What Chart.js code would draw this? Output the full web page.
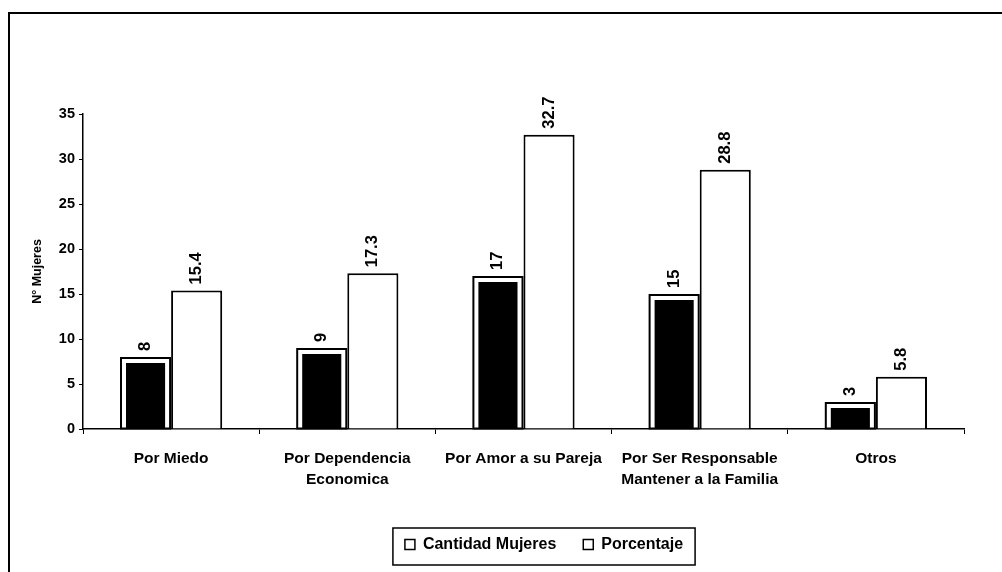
<!DOCTYPE html>
<html>
<head>
<meta charset="utf-8">
<script src="https://cdn.jsdelivr.net/npm/chart.js@4/dist/chart.umd.min.js"></script>
<style>
  html, body { margin: 0; padding: 0; background: #fff; }
  #wrap { position: relative; width: 1002px; height: 572px; overflow: hidden; }
  #frame { position: absolute; left: 8px; top: 12px; width: 1100px; height: 700px;
           border-left: 2px solid #000; border-top: 2px solid #000; pointer-events: none; }
  canvas { position: absolute; left: 0; top: 0; }
</style>
</head>
<body>
<div id="wrap">
  <canvas id="c" width="1002" height="572"></canvas>
  <div id="frame"></div>
</div>
<script>
const categories = [
  'Por Miedo',
  ['Por Dependencia', 'Economica'],
  'Por Amor a su Pareja',
  ['Por Ser Responsable', 'Mantener a la Familia'],
  'Otros'
];
const seriesNames = ['Cantidad Mujeres', 'Porcentaje'];
const cantidadMujeres = [8, 9, 17, 15, 3];
const porcentaje = [15.4, 17.3, 32.7, 28.8, 5.8];
const yTitle = 'N\u00b0 Mujeres';

Chart.defaults.font.family = "'Liberation Sans', Arial, sans-serif";
Chart.defaults.color = '#000';

const LEGEND_CX = 544;
const LEGEND_TEXT_CY = 546;

const decorPlugin = {
  id: 'decor',
  afterLayout(chart) {
    const lg = chart.legend;
    if (!lg) return;
    const w = lg.width;
    lg.left = LEGEND_CX - w / 2;
    lg.right = LEGEND_CX + w / 2;
    const pad = lg.options.labels.padding;
    const fs = lg.options.labels.font.size;
    const itemH = fs * 1.2;
    const h = lg.height;
    lg.top = LEGEND_TEXT_CY - pad - itemH / 2;
    lg.bottom = lg.top + h;
  },
  afterDatasetsDraw(chart) {
    const ctx = chart.ctx;
    // outer outline for the first series
    const m0 = chart.getDatasetMeta(0);
    ctx.save();
    ctx.strokeStyle = '#000';
    ctx.lineWidth = 2;
    m0.data.forEach(el => {
      const p = el.getProps(['x', 'y', 'base', 'width'], true);
      ctx.strokeRect(p.x - p.width / 2 + 1, p.y + 1, p.width - 2, p.base - p.y - 1);
    });
    ctx.restore();
    // value labels
    ctx.save();
    ctx.fillStyle = '#000';
    ctx.font = "bold 16.5px 'Liberation Sans', Arial, sans-serif";
    ctx.textAlign = 'left';
    ctx.textBaseline = 'middle';
    chart.data.datasets.forEach((ds, di) => {
      const meta = chart.getDatasetMeta(di);
      meta.data.forEach((el, i) => {
        const p = el.getProps(['x', 'y'], true);
        ctx.save();
        ctx.translate(p.x, p.y - 6);
        ctx.rotate(-Math.PI / 2);
        ctx.fillText(String(ds.data[i]), 0, 0);
        ctx.restore();
      });
    });
    ctx.restore();
  },
  afterDraw(chart) {
    const lg = chart.legend;
    if (!lg || !lg.lineWidths) return;
    const ctx = chart.ctx;
    const pad = lg.options.labels.padding;
    const fs = lg.options.labels.font.size;
    const itemsW = lg.lineWidths[0] - pad;
    const cx = (lg.left + lg.right) / 2;
    const cy = lg.top + pad + fs * 1.2 / 2;
    ctx.save();
    ctx.strokeStyle = '#000';
    ctx.lineWidth = 1.5;
    ctx.strokeRect(cx - itemsW / 2 - 12, cy - 18, itemsW + 24, 37);
    ctx.restore();
  }
};

new Chart(document.getElementById('c'), {
  type: 'bar',
  data: {
    labels: categories,
    datasets: [
      {
        label: seriesNames[0],
        data: cantidadMujeres,
        backgroundColor: '#000',
        borderColor: '#fff',
        borderWidth: 6,
        categoryPercentage: 0.58,
        barPercentage: 1.0
      },
      {
        label: seriesNames[1],
        data: porcentaje,
        backgroundColor: '#fff',
        borderColor: '#000',
        borderWidth: 2,
        categoryPercentage: 0.58,
        barPercentage: 1.0
      }
    ]
  },
  options: {
    responsive: false,
    animation: false,
    devicePixelRatio: 1,
    layout: { padding: { top: 114, right: 38, left: 0, bottom: 10 } },
    plugins: {
      tooltip: { enabled: false },
      legend: {
        display: true,
        position: 'bottom',
        labels: {
          boxWidth: 10,
          boxHeight: 10,
          padding: 27,
          color: '#000',
          font: { size: 16, weight: 'bold' },
          generateLabels(chart) {
            return chart.data.datasets.map((ds, i) => ({
              text: ds.label,
              fillStyle: '#fff',
              strokeStyle: '#000',
              lineWidth: 1.5,
              hidden: false,
              datasetIndex: i,
              fontColor: '#000'
            }));
          }
        }
      }
    },
    scales: {
      x: {
        afterFit(scale) { scale.height = 80; },
        grid: {
          display: true,
          drawOnChartArea: false,
          offset: true,
          tickLength: 5,
          color: '#000',
          lineWidth: 1
        },
        border: { display: true, color: '#000', width: 1.5 },
        ticks: {
          color: '#000',
          font: { size: 15.5, weight: 'bold', lineHeight: 1.35 },
          maxRotation: 0,
          autoSkip: false,
          padding: 14
        }
      },
      y: {
        min: 0,
        max: 35,
        afterFit(scale) { scale.width = 83; },
        grid: {
          display: true,
          drawOnChartArea: false,
          tickLength: 4,
          color: '#000',
          lineWidth: 1
        },
        border: { display: true, color: '#000', width: 1.5 },
        ticks: {
          stepSize: 5,
          color: '#000',
          font: { size: 14.5, weight: 'bold' },
          padding: 4
        },
        title: {
          display: true,
          text: yTitle,
          color: '#000',
          font: { size: 12.5, weight: 'bold' },
          padding: { top: 30, bottom: 0 }
        }
      }
    }
  },
  plugins: [decorPlugin]
});
</script>
</body>
</html>
